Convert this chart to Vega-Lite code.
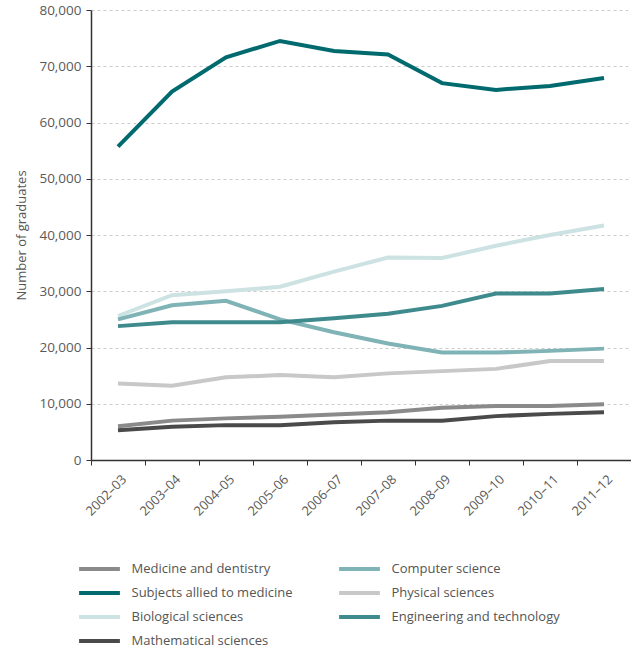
{
  "$schema": "https://vega.github.io/schema/vega-lite/v6.json",
  "width": 540,
  "height": 450,
  "autosize": {"type": "none"},
  "padding": {"left": 91, "top": 10, "right": 0, "bottom": 191},
  "background": "white",
  "config": {
    "view": {"stroke": null},
    "font": "Open Sans"
  },
  "data": {
    "values": [
      {"year": "2002–03", "subject": "Medicine and dentistry", "graduates": 6000},
      {"year": "2003–04", "subject": "Medicine and dentistry", "graduates": 7000},
      {"year": "2004–05", "subject": "Medicine and dentistry", "graduates": 7400},
      {"year": "2005–06", "subject": "Medicine and dentistry", "graduates": 7700},
      {"year": "2006–07", "subject": "Medicine and dentistry", "graduates": 8100},
      {"year": "2007–08", "subject": "Medicine and dentistry", "graduates": 8500},
      {"year": "2008–09", "subject": "Medicine and dentistry", "graduates": 9300},
      {"year": "2009–10", "subject": "Medicine and dentistry", "graduates": 9600},
      {"year": "2010–11", "subject": "Medicine and dentistry", "graduates": 9600},
      {"year": "2011–12", "subject": "Medicine and dentistry", "graduates": 9900},

      {"year": "2002–03", "subject": "Subjects allied to medicine", "graduates": 55700},
      {"year": "2003–04", "subject": "Subjects allied to medicine", "graduates": 65500},
      {"year": "2004–05", "subject": "Subjects allied to medicine", "graduates": 71600},
      {"year": "2005–06", "subject": "Subjects allied to medicine", "graduates": 74500},
      {"year": "2006–07", "subject": "Subjects allied to medicine", "graduates": 72700},
      {"year": "2007–08", "subject": "Subjects allied to medicine", "graduates": 72100},
      {"year": "2008–09", "subject": "Subjects allied to medicine", "graduates": 67000},
      {"year": "2009–10", "subject": "Subjects allied to medicine", "graduates": 65800},
      {"year": "2010–11", "subject": "Subjects allied to medicine", "graduates": 66500},
      {"year": "2011–12", "subject": "Subjects allied to medicine", "graduates": 67900},

      {"year": "2002–03", "subject": "Biological sciences", "graduates": 25600},
      {"year": "2003–04", "subject": "Biological sciences", "graduates": 29300},
      {"year": "2004–05", "subject": "Biological sciences", "graduates": 30000},
      {"year": "2005–06", "subject": "Biological sciences", "graduates": 30800},
      {"year": "2006–07", "subject": "Biological sciences", "graduates": 33500},
      {"year": "2007–08", "subject": "Biological sciences", "graduates": 36000},
      {"year": "2008–09", "subject": "Biological sciences", "graduates": 35900},
      {"year": "2009–10", "subject": "Biological sciences", "graduates": 38100},
      {"year": "2010–11", "subject": "Biological sciences", "graduates": 40000},
      {"year": "2011–12", "subject": "Biological sciences", "graduates": 41700},

      {"year": "2002–03", "subject": "Mathematical sciences", "graduates": 5300},
      {"year": "2003–04", "subject": "Mathematical sciences", "graduates": 5900},
      {"year": "2004–05", "subject": "Mathematical sciences", "graduates": 6200},
      {"year": "2005–06", "subject": "Mathematical sciences", "graduates": 6200},
      {"year": "2006–07", "subject": "Mathematical sciences", "graduates": 6700},
      {"year": "2007–08", "subject": "Mathematical sciences", "graduates": 7000},
      {"year": "2008–09", "subject": "Mathematical sciences", "graduates": 7000},
      {"year": "2009–10", "subject": "Mathematical sciences", "graduates": 7800},
      {"year": "2010–11", "subject": "Mathematical sciences", "graduates": 8200},
      {"year": "2011–12", "subject": "Mathematical sciences", "graduates": 8500},

      {"year": "2002–03", "subject": "Computer science", "graduates": 25000},
      {"year": "2003–04", "subject": "Computer science", "graduates": 27500},
      {"year": "2004–05", "subject": "Computer science", "graduates": 28300},
      {"year": "2005–06", "subject": "Computer science", "graduates": 25000},
      {"year": "2006–07", "subject": "Computer science", "graduates": 22700},
      {"year": "2007–08", "subject": "Computer science", "graduates": 20700},
      {"year": "2008–09", "subject": "Computer science", "graduates": 19100},
      {"year": "2009–10", "subject": "Computer science", "graduates": 19100},
      {"year": "2010–11", "subject": "Computer science", "graduates": 19400},
      {"year": "2011–12", "subject": "Computer science", "graduates": 19800},

      {"year": "2002–03", "subject": "Physical sciences", "graduates": 13600},
      {"year": "2003–04", "subject": "Physical sciences", "graduates": 13200},
      {"year": "2004–05", "subject": "Physical sciences", "graduates": 14700},
      {"year": "2005–06", "subject": "Physical sciences", "graduates": 15100},
      {"year": "2006–07", "subject": "Physical sciences", "graduates": 14700},
      {"year": "2007–08", "subject": "Physical sciences", "graduates": 15400},
      {"year": "2008–09", "subject": "Physical sciences", "graduates": 15800},
      {"year": "2009–10", "subject": "Physical sciences", "graduates": 16200},
      {"year": "2010–11", "subject": "Physical sciences", "graduates": 17600},
      {"year": "2011–12", "subject": "Physical sciences", "graduates": 17600},

      {"year": "2002–03", "subject": "Engineering and technology", "graduates": 23800},
      {"year": "2003–04", "subject": "Engineering and technology", "graduates": 24500},
      {"year": "2004–05", "subject": "Engineering and technology", "graduates": 24500},
      {"year": "2005–06", "subject": "Engineering and technology", "graduates": 24500},
      {"year": "2006–07", "subject": "Engineering and technology", "graduates": 25200},
      {"year": "2007–08", "subject": "Engineering and technology", "graduates": 26000},
      {"year": "2008–09", "subject": "Engineering and technology", "graduates": 27400},
      {"year": "2009–10", "subject": "Engineering and technology", "graduates": 29600},
      {"year": "2010–11", "subject": "Engineering and technology", "graduates": 29600},
      {"year": "2011–12", "subject": "Engineering and technology", "graduates": 30400}
    ]
  },
  "mark": {"type": "line", "strokeWidth": 4},
  "encoding": {
    "x": {
      "field": "year",
      "type": "ordinal",
      "bandPosition": 0.5,
      "scale": {"type": "band", "paddingInner": 0, "paddingOuter": 0},
      "axis": {
        "title": null,
        "tickBand": "extent",
        "labelAngle": -45,
        "labelAlign": "right",
        "labelBaseline": "middle",
        "labelFontSize": 13,
        "labelColor": "#5a5a5a",
        "labelPadding": 12,
        "labelOffset": 6,
        "tickSize": 5,
        "tickColor": "#333333",
        "domainColor": "#333333",
        "domainWidth": 1.5,
        "grid": false
      }
    },
    "y": {
      "field": "graduates",
      "type": "quantitative",
      "scale": {"domain": [0, 80000], "nice": false},
      "axis": {
        "title": "Number of graduates",
        "titleFontSize": 13,
        "titleFontWeight": "normal",
        "titleColor": "#555555",
        "titlePadding": 10,
        "values": [0, 10000, 20000, 30000, 40000, 50000, 60000, 70000, 80000],
        "format": ",d",
        "labelFontSize": 13.5,
        "labelColor": "#5a5a5a",
        "labelPadding": 5,
        "tickSize": 5,
        "tickColor": "#333333",
        "domainColor": "#333333",
        "domainWidth": 1.5,
        "grid": true,
        "gridColor": "#cccccc",
        "gridDash": [3, 3],
        "gridWidth": 1
      }
    },
    "color": {
      "field": "subject",
      "type": "nominal",
      "scale": {
        "domain": ["Medicine and dentistry", "Subjects allied to medicine", "Biological sciences", "Mathematical sciences", "Computer science", "Physical sciences", "Engineering and technology"],
        "range": ["#8a8a8a", "#006a6e", "#cde2e2", "#4a4a4a", "#7fb3b5", "#c8c8c8", "#3e8a8d"]
      },
      "legend": {
        "title": null,
        "orient": "none",
        "legendX": -5.5,
        "legendY": 545,
        "columns": 2,
        "columnPadding": 38,
        "rowPadding": 2,
        "symbolType": "M-1.7,0L1.7,0",
        "symbolSize": 576,
        "symbolStrokeWidth": 4,
        "labelFontSize": 13,
        "labelColor": "#555555",
        "labelOffset": 18,
        "labelLimit": 300
      }
    }
  }
}
